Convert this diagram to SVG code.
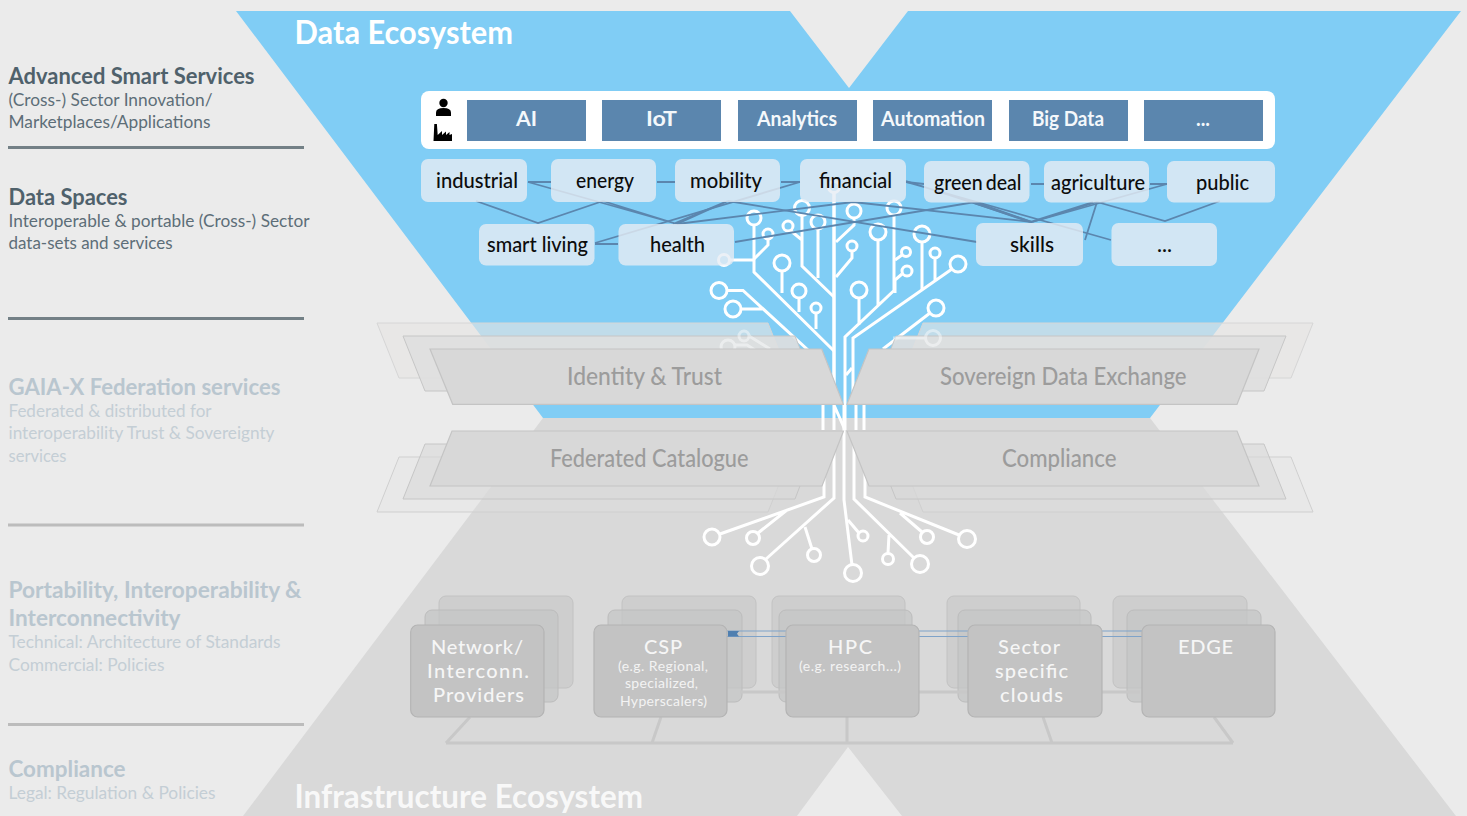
<svg xmlns="http://www.w3.org/2000/svg" width="1467" height="816" viewBox="0 0 1467 816">
<style>
text{font-family:Lato,"Noto Sans","Liberation Sans",sans-serif}
.h{font-size:23px;font-weight:700;fill:#4f616b}
.s{font-size:17px;fill:#5d6e78}
.hf{font-size:23px;font-weight:700;fill:#b9c6cf}
.sf{font-size:17px;fill:#c4ced5}
.rule{stroke-width:3;fill:none}
.t{font-size:32px;font-weight:700}
.btn{fill:#5b86ae}
.bt{font-size:20px;font-weight:700;fill:#f4f8fb}
.sec{fill:#e6ecf4;fill-opacity:.8}
.st{font-size:21px;font-weight:500;fill:#0c0c0c}
.p1{fill:#d8d8d8;stroke:#c4c4c4;stroke-width:1.2}
.p2{fill:#dfdfdf;fill-opacity:.9;stroke:#c6c6c6;stroke-width:1}
.p3{fill:#e6e5e3;fill-opacity:.62;stroke:#d6d6d6;stroke-width:1}
.p2l{fill:#d9d9d9;fill-opacity:.6;stroke:#c6c6c6;stroke-width:1}
.p3l{fill:#e0e0e0;fill-opacity:.3;stroke:#cfcfcf;stroke-width:1}
.pt{font-size:24px;fill:#9c9c9c;font-weight:500}
.tree{fill:none;stroke:#fff;stroke-width:3;stroke-linejoin:miter}
.conn{fill:none;stroke:#5b86ae;stroke-width:1.8}
.b1{fill:#c3c3c3;stroke:#b4b4b4;stroke-width:1.2}
.b2{fill:#c4c6c6;fill-opacity:.75;stroke:#bcbcbc;stroke-width:1}
.b3{fill:#c6c6c6;fill-opacity:.6;stroke:#c2c2c2;stroke-width:1}
.it{font-size:20px;font-weight:500;fill:#f6f6f6}
.is{font-size:14px;fill:#f3f3f3}
.base{fill:none;stroke:#c8c8c8;stroke-width:3}
</style>
<rect width="1467" height="816" fill="#ebebeb"/>
<polygon points="236,11 790,11 849,88 908,11 1461,11 1150,418 543,418" fill="#80cdf5"/>
<polygon points="543,418 1150,418 1456,816 902,816 848,747 797,816 243,816" fill="#d9d9d9"/>

<g id="legend">
<text class="h" x="8.500" y="84" textLength="246" lengthAdjust="spacingAndGlyphs">Advanced Smart Services</text>
<text class="s" x="8.500" y="106" textLength="204" lengthAdjust="spacingAndGlyphs">(Cross-) Sector Innovation/</text>
<text class="s" x="8.500" y="128" textLength="202" lengthAdjust="spacingAndGlyphs">Marketplaces/Applications</text>
<line class="rule" x1="8" y1="147.500" x2="304" y2="147.500" stroke="#738086"/>
<text class="h" x="8.500" y="204.500" textLength="119" lengthAdjust="spacingAndGlyphs">Data Spaces</text>
<text class="s" x="8.500" y="227" textLength="301" lengthAdjust="spacingAndGlyphs">Interoperable &amp; portable (Cross-) Sector</text>
<text class="s" x="8.500" y="249" textLength="164" lengthAdjust="spacingAndGlyphs">data-sets and services</text>
<line class="rule" x1="8" y1="318.500" x2="304" y2="318.500" stroke="#738086"/>
<text class="hf" x="8.500" y="395" textLength="272" lengthAdjust="spacingAndGlyphs">GAIA-X Federation services</text>
<text class="sf" x="8.500" y="417" textLength="203" lengthAdjust="spacingAndGlyphs">Federated &amp; distributed for</text>
<text class="sf" x="8.500" y="439" textLength="266" lengthAdjust="spacingAndGlyphs">interoperability Trust &amp; Sovereignty</text>
<text class="sf" x="8.500" y="462" textLength="58" lengthAdjust="spacingAndGlyphs">services</text>
<line class="rule" x1="8" y1="525" x2="304" y2="525" stroke="#bcbcbc"/>
<text class="hf" x="8.500" y="598" textLength="293" lengthAdjust="spacingAndGlyphs">Portability, Interoperability &amp;</text>
<text class="hf" x="8.500" y="626" textLength="172" lengthAdjust="spacingAndGlyphs">Interconnectivity</text>
<text class="sf" x="8.500" y="648" textLength="272" lengthAdjust="spacingAndGlyphs">Technical: Architecture of Standards</text>
<text class="sf" x="8.500" y="671" textLength="156" lengthAdjust="spacingAndGlyphs">Commercial: Policies</text>
<line class="rule" x1="8" y1="724.500" x2="304" y2="724.500" stroke="#bcbcbc"/>
<text class="hf" x="8.500" y="777" textLength="117" lengthAdjust="spacingAndGlyphs">Compliance</text>
<text class="sf" x="8.500" y="799" textLength="207" lengthAdjust="spacingAndGlyphs">Legal: Regulation &amp; Policies</text>
</g>

<text id="title-data" class="t" x="294.500" y="44" fill="#fff" textLength="218.500" lengthAdjust="spacingAndGlyphs">Data Ecosystem</text>
<text id="title-infra" class="t" x="294.500" y="808" fill="#f8f8f8" textLength="348.500" lengthAdjust="spacingAndGlyphs">Infrastructure Ecosystem</text>

<g id="services">
<rect x="421" y="91" width="854" height="58" rx="8" fill="#fff"/>
<circle cx="443.500" cy="103" r="4.200" fill="#000"/>
<path d="M436 116v-3.500q0-4.500 7.500-4.500t7.500 4.500v3.500z" fill="#000"/>
<path d="M433.500 141l0.800-17h2.600l0.800 11 4.300-4v4l4-3.500v3.500l3.500-3v3l2.500-1v7z" fill="#000"/>
<g id="svc-ai"><rect class="btn" x="467" y="100" width="119" height="41"/><text class="bt" x="516" y="126" textLength="21" lengthAdjust="spacingAndGlyphs">AI</text></g>
<g id="svc-iot"><rect class="btn" x="602" y="100" width="119" height="41"/><text class="bt" x="646" y="126" textLength="31" lengthAdjust="spacingAndGlyphs">IoT</text></g>
<g id="svc-analytics"><rect class="btn" x="738" y="100" width="119" height="41"/><text class="bt" x="757" y="126" textLength="80" lengthAdjust="spacingAndGlyphs">Analytics</text></g>
<g id="svc-automation"><rect class="btn" x="873" y="100" width="119" height="41"/><text class="bt" x="881" y="126" textLength="104" lengthAdjust="spacingAndGlyphs">Automation</text></g>
<g id="svc-bigdata"><rect class="btn" x="1009" y="100" width="119" height="41"/><text class="bt" x="1032" y="126" textLength="72" lengthAdjust="spacingAndGlyphs">Big Data</text></g>
<g id="svc-more"><rect class="btn" x="1144" y="100" width="119" height="41"/><text class="bt" x="1196" y="126" textLength="14" lengthAdjust="spacingAndGlyphs">...</text></g>
</g>

<g id="tree-upper" class="tree">
<path d="M754 225V272L834 351"/>
<path d="M729 260H754M768 239V245L754 259"/>
<path d="M782 271V293M799 298V312M816 313V329"/>
<path d="M802 215V266L834 297M818 229V278M791 231L802 240"/>
<path d="M834 192V405" stroke-width="3.500"/>
<path d="M854 218V225L836 242M852 251V258L836 277"/>
<path d="M727 290.500H743L808 350M741 309H763"/>
<path d="M845 405V337L894.500 290M894 215V290M878 240V305M922 242V290M859 298V325"/>
<path d="M853 405V338L952 269M935 258V280M902 255L895 260M902 274L895 280V293"/>
<path d="M883 349L930 313M846 375L852 368"/>
<path d="M823 405V430M834 405V430M845 405V430M856 405V430M864 405V430M834 405L845 430"/>
<circle cx="834" cy="187" r="5.500"/>
<circle cx="754" cy="218" r="7"/><circle cx="802" cy="208" r="7.500"/><circle cx="818" cy="222" r="7"/>
<circle cx="788" cy="226" r="5"/><circle cx="768" cy="234" r="5"/><circle cx="724" cy="260" r="5.500"/>
<circle cx="782" cy="263" r="8"/><circle cx="719" cy="290.500" r="8"/><circle cx="733" cy="309" r="8"/>
<circle cx="799" cy="291" r="7"/><circle cx="816" cy="308" r="5"/><circle cx="854" cy="211" r="7"/>
<circle cx="894" cy="208" r="7"/><circle cx="878" cy="232" r="8"/><circle cx="922" cy="234" r="8"/>
<circle cx="852" cy="246" r="5"/><circle cx="906" cy="252" r="4.500"/><circle cx="907" cy="271" r="5"/>
<circle cx="935" cy="253" r="5"/><circle cx="958" cy="264" r="8"/><circle cx="859" cy="290" r="8"/>
<circle cx="936" cy="308" r="8"/>
</g>

<g id="connectors" class="conn">
<path d="M528 182H551M657 182H675M781 182H800M906 182L924 184M1031 184H1044M1150 184H1167M595 244H618"/>
<path d="M476 201L538 223L603 201"/>
<path d="M528 182L677 224M603 201L677 224M677 224L728 201M673 224L725 202"/>
<path d="M595 243L800 182"/>
<path d="M677 224L853 202L1032 222"/>
<path d="M728 201L977 242"/>
<path d="M735 242L975 202L1032 222M971 202L1030 222"/>
<path d="M906 182L1111 240M906 181L1032 222"/>
<path d="M1097 202L1032 222M1093 202L1030 222M1097 202L1085 240"/>
<path d="M1167 184L1032 222"/>
<path d="M1220 201L1165 221L1097 202"/>
</g>

<g id="sectors">
<g id="sector-industrial"><rect class="sec" x="421" y="159" width="106" height="43" rx="7"/><text class="st" x="436" y="187.500" textLength="82" lengthAdjust="spacingAndGlyphs">industrial</text></g>
<g id="sector-energy"><rect class="sec" x="551" y="159" width="105" height="43" rx="7"/><text class="st" x="576" y="187.500" textLength="58" lengthAdjust="spacingAndGlyphs">energy</text></g>
<g id="sector-mobility"><rect class="sec" x="675" y="159" width="105" height="43" rx="7"/><text class="st" x="690" y="187.500" textLength="72" lengthAdjust="spacingAndGlyphs">mobility</text></g>
<g id="sector-financial"><rect class="sec" x="800" y="159" width="106" height="43" rx="7"/><text class="st" x="819" y="187.500" textLength="73" lengthAdjust="spacingAndGlyphs">financial</text></g>
<g id="sector-greendeal"><rect class="sec" x="924" y="161" width="105.500" height="41.500" rx="7"/><text class="st" x="934" y="190" style="word-spacing:-2px" textLength="87.500" lengthAdjust="spacingAndGlyphs">green deal</text></g>
<g id="sector-agriculture"><rect class="sec" x="1044" y="161" width="105" height="41.500" rx="7"/><text class="st" x="1051" y="189.500" textLength="94" lengthAdjust="spacingAndGlyphs">agriculture</text></g>
<g id="sector-public"><rect class="sec" x="1167" y="161" width="108" height="41.500" rx="7"/><text class="st" x="1196" y="189.500" textLength="53" lengthAdjust="spacingAndGlyphs">public</text></g>
<g id="sector-smartliving"><rect class="sec" x="479" y="224" width="115.500" height="41.500" rx="7"/><text class="st" x="487" y="252" textLength="101" lengthAdjust="spacingAndGlyphs">smart living</text></g>
<g id="sector-health"><rect class="sec" x="618.500" y="224" width="115.500" height="41.500" rx="7"/><text class="st" x="650" y="252" textLength="55" lengthAdjust="spacingAndGlyphs">health</text></g>
<g id="sector-skills"><rect class="sec" x="976" y="223" width="107" height="43" rx="7"/><text class="st" x="1010" y="252" textLength="44" lengthAdjust="spacingAndGlyphs">skills</text></g>
<g id="sector-more"><rect class="sec" x="1111.500" y="223" width="105.500" height="43" rx="7"/><text class="st" x="1157" y="252" textLength="15" lengthAdjust="spacingAndGlyphs">...</text></g>
</g>

<g id="tree-lower" class="tree">
<path d="M844 405V500L852 565"/>
<path d="M834 440V498L766 559M805 527L812 549"/>
<path d="M824 470V497L720 534M787 510L758 533"/>
<path d="M854 440V499L914 558M889 535L888 553"/>
<path d="M865 465V497L959 535M900 513L922 532"/>
<path d="M848 520L859 533"/>
<circle cx="853" cy="573" r="8.500"/><circle cx="760" cy="566" r="8.500"/><circle cx="814" cy="555" r="6.500"/>
<circle cx="712" cy="537" r="8"/><circle cx="753" cy="538" r="6.500"/><circle cx="920" cy="564" r="8.500"/>
<circle cx="888" cy="559" r="5.500"/><circle cx="967" cy="539" r="8.500"/><circle cx="927" cy="537" r="6.500"/>
<circle cx="863" cy="536" r="5"/>
</g>

<g id="panels-back">
<polygon class="p3" points="377,323 768,323 790,378 399,378"/>
<polygon class="p3" points="923,323 1313,323 1291,378 901,378"/>
<polygon class="p3l" points="399,457 790,457 768,512 377,512"/>
<polygon class="p3l" points="901,457 1291,457 1313,512 923,512"/>
<polygon class="p2" points="403,336 795,336 817,391 425,391"/>
<polygon class="p2" points="896,336 1286,336 1264,391 874,391"/>
<polygon class="p2l" points="425,444 816,444 795,499 403,499"/>
<polygon class="p2l" points="874,444 1264,444 1286,499 896,499"/>
</g>
<g id="tree-faded" class="tree" opacity=".45">
<circle cx="744" cy="336" r="5"/><circle cx="728" cy="347" r="7"/>
<path d="M749 336L770 349M735 345H747L755 350"/>
<circle cx="933" cy="338" r="7.500"/><path d="M893 338H925"/>
</g>

<g id="identity-trust"><polygon class="p1" points="430,349 821.700,349 843.300,404.300 452.700,404.300"/><text class="pt" x="567" y="384.500" textLength="155" lengthAdjust="spacingAndGlyphs">Identity &amp; Trust</text></g>
<g id="sovereign-data-exchange"><polygon class="p1" points="869,349 1259,349 1237,404.300 847,404.300"/><text class="pt" x="940" y="384.500" textLength="246.500" lengthAdjust="spacingAndGlyphs">Sovereign Data Exchange</text></g>
<g id="federated-catalogue"><polygon class="p1" points="452,431 843.500,431 822,486 430,486"/><text class="pt" x="550" y="466.500" textLength="198.500" lengthAdjust="spacingAndGlyphs">Federated Catalogue</text></g>
<g id="compliance"><polygon class="p1" points="847,431 1237,431 1259,486 869,486"/><text class="pt" x="1002" y="466.500" textLength="114.500" lengthAdjust="spacingAndGlyphs">Compliance</text></g>

<g id="infra-base">
<path class="base" d="M446 743H1233M470 717L446 743M661 717L652 743M847 717V743M1043 717L1052 743M1214 717L1233 743"/>
</g>
<g id="infra-stacks">
<rect class="b3" x="439" y="596" width="134" height="92" rx="7"/><rect class="b2" x="425" y="610" width="133" height="92" rx="7"/>
<rect class="b3" x="622" y="596" width="134" height="92" rx="7"/><rect class="b2" x="608" y="610" width="134" height="92" rx="7"/>
<rect class="b3" x="772" y="596" width="133" height="92" rx="7"/><rect class="b2" x="779" y="610" width="133" height="92" rx="7"/>
<rect class="b3" x="947" y="596" width="133" height="92" rx="7"/><rect class="b2" x="958" y="610" width="133" height="92" rx="7"/>
<rect class="b3" x="1113" y="596" width="134" height="92" rx="7"/><rect class="b2" x="1127" y="610" width="134" height="92" rx="7"/>
<path d="M740 692H1140" fill="none" stroke="#c8c8c8" stroke-width="3"/>
<path d="M727 631H1142M727 636.500H1142" fill="none" stroke="#7fa3c9" stroke-width="1"/>
<path d="M728 631H739L737 633.700L739 636.500H728z" fill="#4f7fb0"/>
</g>
<g id="infra-network"><rect class="b1" x="410.700" y="625" width="133.300" height="92" rx="7"/><text class="it" x="431" y="654" textLength="92">Network/</text><text class="it" x="427" y="678" textLength="102">Interconn.</text><text class="it" x="433" y="702" textLength="91">Providers</text></g>
<g id="infra-csp"><rect class="b1" x="594" y="625" width="133" height="92" rx="7"/><text class="it" x="644" y="654" textLength="38">CSP</text><text class="is" x="618" y="671" textLength="90">(e.g. Regional,</text><text class="is" x="625" y="688" textLength="73">specialized,</text><text class="is" x="620" y="706" textLength="87">Hyperscalers)</text></g>
<g id="infra-hpc"><rect class="b1" x="786" y="625" width="133" height="92" rx="7"/><text class="it" x="828" y="654" textLength="44">HPC</text><text class="is" x="799" y="671" textLength="102">(e.g. research...)</text></g>
<g id="infra-sector"><rect class="b1" x="968" y="625" width="134" height="92" rx="7"/><text class="it" x="998" y="654" textLength="62">Sector</text><text class="it" x="995" y="678" textLength="73">specific</text><text class="it" x="1000" y="702" textLength="63">clouds</text></g>
<g id="infra-edge"><rect class="b1" x="1142" y="625" width="133" height="92" rx="7"/><text class="it" x="1178" y="654" textLength="55">EDGE</text></g>
</svg>
